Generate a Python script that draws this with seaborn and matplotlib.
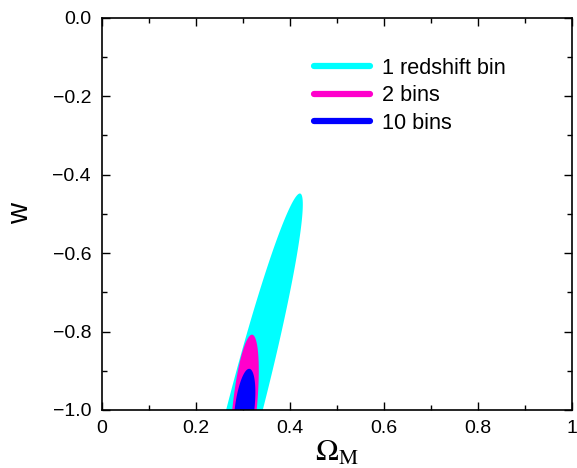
import numpy as np
import matplotlib
matplotlib.use("Agg")
import matplotlib.pyplot as plt
import seaborn as sns
from matplotlib.lines import Line2D

# fiducial point and contour shapes
labels = ['1 redshift bin', '2 bins', '10 bins']
colors = ['#00ffff', '#ff00cc', '#0000ff']
center_om = [0.303, 0.303, 0.303]
center_w = [-1.0, -1.0, -1.0]
top_om = [0.421, 0.319, 0.313]   # Omega_M at highest w of each contour
top_w = [-0.448, -0.808, -0.895]  # highest w of each contour
half_width = [0.039, 0.026, 0.021]  # half width in Omega_M at w = -1

xticks = [0, 0.2, 0.4, 0.6, 0.8, 1]
yticks = [-1.0, -0.8, -0.6, -0.4, -0.2, 0.0]

sns.set_style("ticks")
plt.rcParams['font.family'] = ['Liberation Sans', 'DejaVu Sans']
plt.rcParams['mathtext.fontset'] = 'stix'
plt.rcParams['text.color'] = 'black'
plt.rcParams['axes.labelcolor'] = 'black'

fig = plt.figure(figsize=(5.77, 4.68), dpi=100)
ax = fig.add_axes([0.177, 0.124, 0.814, 0.838])

t = np.linspace(0, 2 * np.pi, 400)
for i in range(len(labels)):
    dx = top_om[i] - center_om[i]
    dy = top_w[i] - center_w[i]
    cyy = dy ** 2
    cxy = dx * dy
    cxx = half_width[i] ** 2 + cxy ** 2 / cyy
    L = np.linalg.cholesky(np.array([[cxx, cxy], [cxy, cyy]]))
    pts = L @ np.vstack([np.cos(t), np.sin(t)])
    ax.fill(center_om[i] + pts[0], center_w[i] + pts[1], color=colors[i], lw=0)

ax.set_xlim(0, 1)
ax.set_ylim(-1, 0)
ax.set_xticks(xticks)
ax.set_xticklabels(['%g' % v for v in xticks])
ax.set_yticks(yticks)
ax.set_yticklabels([('%.1f' % v).replace('-', '\u2212') for v in yticks])
ax.xaxis.set_minor_locator(matplotlib.ticker.MultipleLocator(0.1))
ax.yaxis.set_minor_locator(matplotlib.ticker.MultipleLocator(0.1))
ax.tick_params(which='both', direction='in', top=True, right=True,
               labelsize=14, colors='black', width=1)
ax.tick_params(which='major', length=6)
ax.tick_params(which='minor', length=3.5)
ax.tick_params(axis='x', which='major', pad=7.5)
ax.tick_params(axis='y', which='major', pad=8)
for s in ax.spines.values():
    s.set_linewidth(1.2)
    s.set_color('black')

ax.set_xlabel(r'$\Omega_{\rm M}$', fontsize=22, labelpad=0, color='black')
ax.set_ylabel('w', fontsize=21, labelpad=13, color='black')

handles = [Line2D([0], [0], color=c, lw=4.5, solid_capstyle='round') for c in colors]
ax.legend(handles, labels, loc='upper left', bbox_to_anchor=(0.433, 0.92),
          frameon=False, fontsize=15.6, handlelength=2.58, handletextpad=0.55,
          labelspacing=0.3, borderaxespad=0, labelcolor='black')

fig.savefig('out.png', dpi=100)
